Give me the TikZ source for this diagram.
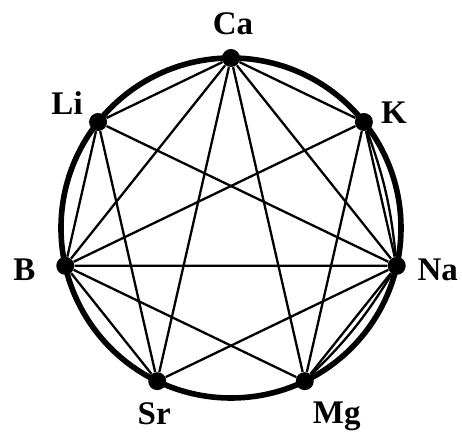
\documentclass[tikz,border=0pt]{standalone}
\usepackage{fontspec}
\setmainfont{Liberation Serif}
\usetikzlibrary{calc}

\tikzset{
  dot/.style={circle,fill=black,inner sep=0pt,minimum size=9pt},
  lbl/.style={font=\fontsize{16.5}{18}\selectfont\bfseries,inner sep=0pt},
  rim/.style={line width=2.8pt},
  edge/.style={line width=1.15pt}
}

\begin{document}
\begin{tikzpicture}[x=.5pt,y=.5pt]
\useasboundingbox (-231,-205) rectangle (231,228);
\draw[rim] (0,0) circle[radius=85pt];
\foreach \n [count=\i from 0] in {Ca,Li,B,Sr,Mg,Na,K}
  \node[dot] (\n) at ({90+\i*360/7}:170) {};
\foreach \a/\b in {Ca/Li,Ca/B,Ca/Sr,Ca/Mg,Ca/Na,Ca/K,
                   Li/B,Li/Sr,Li/Na,
                   B/K,B/Na,B/Mg,B/Sr,
                   Sr/Na,Mg/K,Mg/Na,K/Na}
  \draw[edge] (\a) -- (\b);
% second, bowed links near the rim
\draw[edge] (K) to[bend left=7] (Na);
\draw[edge] (Na) to[bend left=7] (Mg);
\node[lbl] (Ca-t) at ($(Ca)+(2,34)$) {Ca};
\node[lbl] (Li-t) at ($(Li)+(-31,19)$) {Li};
\node[lbl] (K-t) at ($(K)+(30,9)$) {K};
\node[lbl] (B-t) at ($(B)+(-41,-4)$) {B};
\node[lbl] (Na-t) at ($(Na)+(41,-4)$) {Na};
\node[lbl] (Sr-t) at ($(Sr)+(-3,-33)$) {Sr};
\node[lbl] (Mg-t) at ($(Mg)+(32,-35)$) {Mg};
\end{tikzpicture}
\end{document}
